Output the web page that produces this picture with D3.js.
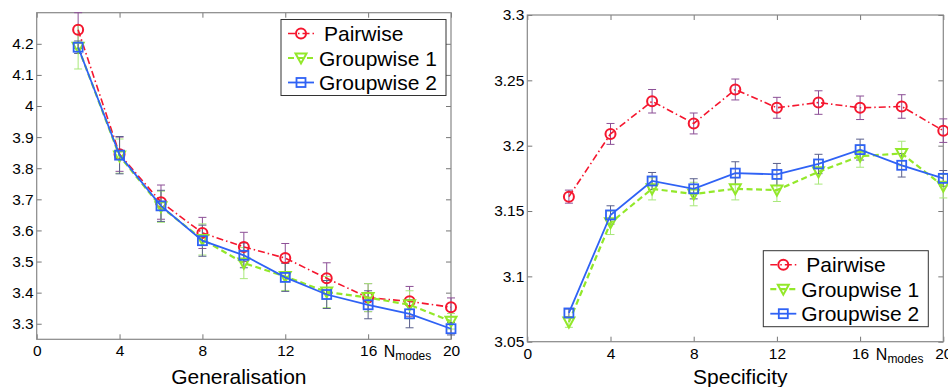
<!DOCTYPE html>
<html>
<head>
<meta charset="utf-8">
<script src="https://cdn.jsdelivr.net/npm/d3@7"></script>
<style>
  body { margin: 0; background: #fff; }
  svg { display: block; font-family: "Liberation Sans", Arial, sans-serif; }
</style>
</head>
<body>
<svg id="chart" width="948" height="387"></svg>
<script>
// number of modes (x values)
const modes = [2, 4, 6, 8, 10, 12, 14, 16, 18, 20];
const xTicks = [0, 4, 8, 12, 16, 20];
const seriesNames = ["Pairwise", "Groupwise 1", "Groupwise 2"];

// Generalisation panel
const genTicks = [3.3, 3.4, 3.5, 3.6, 3.7, 3.8, 3.9, 4, 4.1, 4.2];
const genPair = [4.245, 3.845, 3.691, 3.592, 3.547, 3.511, 3.446, 3.384, 3.372, 3.353];
const genGroup1 = [4.189, 3.839, 3.676, 3.571, 3.495, 3.452, 3.402, 3.384, 3.361, 3.308];
const genGroup2 = [4.189, 3.842, 3.679, 3.567, 3.520, 3.449, 3.394, 3.361, 3.332, 3.284];
const genPairErr = [0.06, 0.055, 0.055, 0.05, 0.047, 0.047, 0.05, 0.045, 0.048, 0.03];
const genGroup1Err = [0.07, 0.055, 0.05, 0.05, 0.05, 0.045, 0.05, 0.045, 0.045, 0.025];
const genGroup2Err = [0.02, 0.06, 0.05, 0.05, 0.04, 0.045, 0.045, 0.045, 0.045, 0.02];

// Specificity panel
const specTicks = [3.05, 3.1, 3.15, 3.2, 3.25, 3.3];
const specPair = [3.161, 3.209, 3.234, 3.217, 3.243, 3.229, 3.233, 3.229, 3.230, 3.2115];
const specGroup1 = [3.065, 3.141, 3.167, 3.163, 3.167, 3.166, 3.180, 3.192, 3.194, 3.169];
const specGroup2 = [3.072, 3.147, 3.173, 3.167, 3.179, 3.178, 3.186, 3.197, 3.185, 3.175];
const specPairErr = [0.005, 0.008, 0.009, 0.008, 0.008, 0.008, 0.009, 0.009, 0.009, 0.009];
const specGroup1Err = [0.004, 0.009, 0.0085, 0.009, 0.0085, 0.0087, 0.0094, 0.0085, 0.0094, 0.009];
const specGroup2Err = [0.003, 0.007, 0.0065, 0.0077, 0.0087, 0.0084, 0.0074, 0.008, 0.009, 0.006];

const styles = [
    { color: "#f5162e", err: "#8c4f96", dash: "7,3,1.5,3", width: 1.6, shape: "circle" },
    { color: "#93e82a", err: "#a8e87a", dash: "6,3.5", width: 2.2, shape: "tri" },
    { color: "#2f62f5", err: "#5a5f8c", dash: null, width: 1.8, shape: "square" }
];

const svg = d3.select("#chart");

function drawMarker(g, shape, color, x, y) {
    if (shape === "circle") {
        g.append("circle").attr("cx", x).attr("cy", y).attr("r", 5)
            .attr("fill", "none").attr("stroke", color).attr("stroke-width", 2);
    } else if (shape === "tri") {
        g.append("path")
            .attr("d", `M${x - 5.5},${y - 4.5}L${x + 5.5},${y - 4.5}L${x},${y + 5.5}Z`)
            .attr("fill", "none").attr("stroke", color).attr("stroke-width", 2);
    } else {
        g.append("rect").attr("x", x - 4.5).attr("y", y - 4.5).attr("width", 9).attr("height", 9)
            .attr("fill", "none").attr("stroke", color).attr("stroke-width", 1.8);
    }
}

function drawPanel(cfg) {
    const x = d3.scaleLinear().domain([0, 20]).range([cfg.left, cfg.right]);
    const y = d3.scaleLinear().domain(cfg.yDomain).range([cfg.bottom, cfg.top]);
    const g = svg.append("g");

    // axes box with inward ticks on all sides
    const axisStyle = sel => {
        sel.select(".domain").remove();
        sel.selectAll(".tick line").attr("stroke", "#777");
        sel.selectAll("text").attr("fill", "#000").attr("font-size", 15.5)
            .attr("font-family", "Liberation Sans, Arial, sans-serif");
    };
    g.append("g").attr("transform", `translate(0,${cfg.bottom})`)
        .call(d3.axisBottom(x).tickValues(xTicks).tickSizeInner(-5).tickSizeOuter(0).tickPadding(6).tickFormat(d3.format("d")))
        .call(axisStyle);
    g.append("g").attr("transform", `translate(0,${cfg.top})`)
        .call(d3.axisTop(x).tickValues(xTicks).tickSizeInner(-5).tickSizeOuter(0).tickFormat(""))
        .call(axisStyle);
    g.append("g").attr("transform", `translate(${cfg.left},0)`)
        .call(d3.axisLeft(y).tickValues(cfg.yTicks).tickSizeInner(-5).tickSizeOuter(0).tickPadding(3).tickFormat(d => String(+d.toFixed(2))))
        .call(axisStyle);
    g.append("g").attr("transform", `translate(${cfg.right},0)`)
        .call(d3.axisRight(y).tickValues(cfg.yTicks).tickSizeInner(-5).tickSizeOuter(0).tickFormat(""))
        .call(axisStyle);
    g.append("rect").attr("x", cfg.left).attr("y", cfg.top)
        .attr("width", cfg.right - cfg.left).attr("height", cfg.bottom - cfg.top)
        .attr("fill", "none").attr("stroke", "#888").attr("stroke-width", 1.2);

    // Nmodes label
    const nm = g.append("text").attr("x", x(17.9)).attr("y", cfg.bottom + 18)
        .attr("text-anchor", "middle").attr("font-size", 16).attr("fill", "#000");
    nm.append("tspan").text("N");
    nm.append("tspan").attr("font-size", 12).attr("dy", 3).text("modes");

    // title
    g.append("text").attr("x", (cfg.left + cfg.right) / 2 + cfg.titleShift).attr("y", 384)
        .attr("text-anchor", "middle").attr("font-size", 21).attr("fill", "#000").text(cfg.title);

    // series, errors and markers
    cfg.series.forEach((vals, i) => {
        const st = styles[i];
        const errs = cfg.errors[i];
        const eg = g.append("g").attr("stroke", st.err).attr("stroke-width", 1);
        modes.forEach((m, j) => {
            const cx = x(m);
            const y0 = Math.max(y(vals[j] + errs[j]), cfg.top), y1 = y(vals[j] - errs[j]);
            eg.append("line").attr("x1", cx).attr("x2", cx).attr("y1", y0).attr("y2", y1);
            eg.append("line").attr("x1", cx - 4).attr("x2", cx + 4).attr("y1", y0).attr("y2", y0);
            eg.append("line").attr("x1", cx - 4).attr("x2", cx + 4).attr("y1", y1).attr("y2", y1);
        });
    });
    cfg.series.forEach((vals, i) => {
        const st = styles[i];
        const line = d3.line().x((d, j) => x(modes[j])).y(d => y(d));
        g.append("path").datum(vals).attr("d", line)
            .attr("fill", "none").attr("stroke", st.color).attr("stroke-width", st.width)
            .attr("stroke-dasharray", st.dash);
        const mg = g.append("g");
        vals.forEach((v, j) => drawMarker(mg, st.shape, st.color, x(modes[j]), y(v)));
    });

    // legend
    const lg = g.append("g").attr("transform", `translate(${cfg.legend[0]},${cfg.legend[1]})`);
    lg.append("rect").attr("width", 165).attr("height", 76)
        .attr("fill", "#fff").attr("stroke", "#333").attr("stroke-width", 1);
    seriesNames.forEach((name, i) => {
        const st = styles[i];
        const ly = 14 + i * 24.5;
        lg.append("line").attr("x1", 7).attr("x2", 33).attr("y1", ly).attr("y2", ly)
            .attr("stroke", st.color).attr("stroke-width", st.width).attr("stroke-dasharray", st.dash);
        drawMarker(lg, st.shape, st.color, 20, ly);
        lg.append("text").attr("x", i === 0 ? 43 : 38).attr("y", ly + 7.5)
            .attr("font-size", 21).attr("fill", "#000").text(name);
    });
}

drawPanel({
    left: 36.7, right: 451, top: 12.7, bottom: 339.3,
    yDomain: [3.25, 4.3], yTicks: genTicks,
    series: [genPair, genGroup1, genGroup2],
    errors: [genPairErr, genGroup1Err, genGroup2Err],
    title: "Generalisation", titleShift: -5,
    legend: [281, 19.5]
});

drawPanel({
    left: 527.3, right: 943.3, top: 15, bottom: 341.7,
    yDomain: [3.05, 3.3], yTicks: specTicks,
    series: [specPair, specGroup1, specGroup2],
    errors: [specPairErr, specGroup1Err, specGroup2Err],
    title: "Specificity", titleShift: 5,
    legend: [763.3, 250.7]
});
</script>
</body>
</html>
